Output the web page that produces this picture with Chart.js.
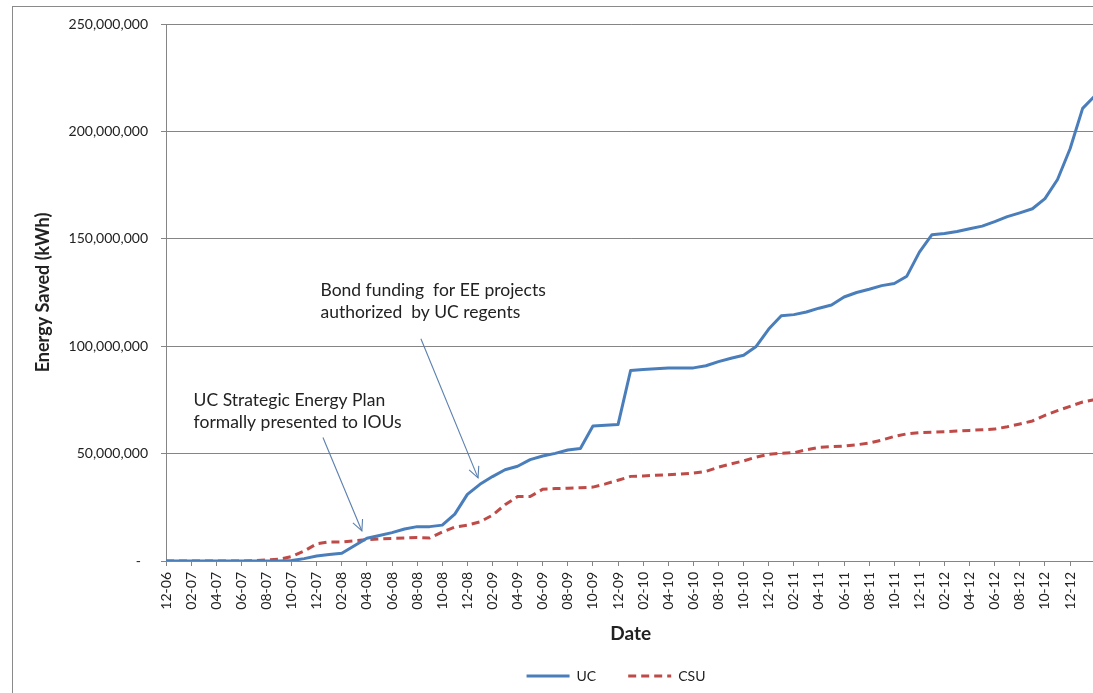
<!DOCTYPE html>
<html><head><meta charset="utf-8">
<script src="https://cdn.jsdelivr.net/npm/chart.js@4.4.0/dist/chart.umd.min.js"></script>
<style>
html,body{margin:0;padding:0;background:#fff;overflow:hidden;width:1093px;height:693px}
#frame{position:absolute;left:12px;top:6px;width:1300px;height:800px;border:1px solid #8a8a8a;box-sizing:border-box}
#wrap{position:absolute;left:0;top:0;width:1118px;height:693px}
</style></head><body>
<div id="frame"></div>
<div id="wrap"><canvas id="c" width="1118" height="693" style="width:1118px;height:693px"></canvas></div>
<script>
// Categories (monthly, MM-YY)
const months = ['12-06',
 '01-07','02-07','03-07','04-07','05-07','06-07','07-07','08-07','09-07','10-07','11-07','12-07',
 '01-08','02-08','03-08','04-08','05-08','06-08','07-08','08-08','09-08','10-08','11-08','12-08',
 '01-09','02-09','03-09','04-09','05-09','06-09','07-09','08-09','09-09','10-09','11-09','12-09',
 '01-10','02-10','03-10','04-10','05-10','06-10','07-10','08-10','09-10','10-10','11-10','12-10',
 '01-11','02-11','03-11','04-11','05-11','06-11','07-11','08-11','09-11','10-11','11-11','12-11',
 '01-12','02-12','03-12','04-12','05-12','06-12','07-12','08-12','09-12','10-12','11-12','12-12',
 '01-13','02-13'];
const lastLabelIndex = 72; // last visible tick label (12-12)

// Energy saved, kWh
const ucValues = [0,
 0,0,0,0,0,0,0,0,0,0.2e6,1.1e6,2.3e6,
 3.0e6,3.6e6,7.1e6,10.6e6,11.9e6,13.2e6,14.9e6,16.0e6,16.0e6,16.7e6,21.8e6,31.0e6,
 35.7e6,39.3e6,42.5e6,44.1e6,47.2e6,48.9e6,50.1e6,51.7e6,52.4e6,62.8e6,63.2e6,63.5e6,
 88.7e6,89.2e6,89.5e6,89.9e6,89.9e6,89.9e6,90.9e6,92.8e6,94.4e6,95.8e6,99.9e6,108.0e6,
 114.2e6,114.7e6,115.9e6,117.7e6,119.2e6,122.9e6,125.0e6,126.5e6,128.2e6,129.2e6,132.6e6,143.8e6,
 151.9e6,152.5e6,153.4e6,154.7e6,155.9e6,158.0e6,160.3e6,162.1e6,164.0e6,168.7e6,177.6e6,191.9e6,
 210.7e6,216.7e6];
const csuValues = [0,
 0,0,0,0,0,0,0.2e6,0.5e6,0.8e6,2.1e6,4.6e6,8.0e6,
 8.9e6,8.9e6,9.4e6,9.9e6,10.3e6,10.5e6,10.7e6,10.9e6,10.7e6,13.5e6,15.8e6,16.7e6,
 18.2e6,21.3e6,26.2e6,30.0e6,30.0e6,33.4e6,33.7e6,33.9e6,34.1e6,34.4e6,35.9e6,37.6e6,
 39.4e6,39.6e6,39.9e6,40.2e6,40.5e6,40.9e6,41.7e6,43.7e6,45.2e6,46.6e6,48.4e6,49.7e6,
 50.2e6,50.4e6,51.8e6,52.9e6,53.2e6,53.5e6,54.1e6,54.9e6,56.3e6,58.0e6,59.2e6,59.8e6,
 60.0e6,60.2e6,60.5e6,60.8e6,61.1e6,61.4e6,62.5e6,63.8e6,65.2e6,67.8e6,70.0e6,72.0e6,
 74.0e6,75.2e6];

// Y axis tick values
const yTicks = [0, 50e6, 100e6, 150e6, 200e6, 250e6];

// Annotations: text anchor, arrow tail and head in (category index, kWh)
const noteTexts = [
  ['UC Strategic Energy Plan', 'formally presented to IOUs'],
  ['Bond funding  for EE projects', 'authorized  by UC regents']
];
const noteAnchors = [[2.2, 74.6e6], [12.3, 126e6]];
const noteTails = [[12.5, 57.5e6], [20.3, 103.5e6]];
const noteHeads = [[15.6, 14.0e6], [24.85, 38.7e6]];

const FONT = 'Lato, "Open Sans", sans-serif';
const GRID = '#858585';
const TEXT = '#222222';

const annotationPlugin = {
  id: 'notes',
  afterDatasetsDraw(chart) {
    const {ctx, scales: {x, y}} = chart;
    ctx.save();
    ctx.font = '17.5px ' + FONT;
    ctx.fillStyle = TEXT;
    ctx.textBaseline = 'middle';
    ctx.textAlign = 'left';
    noteTexts.forEach((lines, i) => {
      const ax = x.getPixelForValue(noteAnchors[i][0]);
      const ay = y.getPixelForValue(noteAnchors[i][1]);
      lines.forEach((t, k) => ctx.fillText(t, ax, ay + k * 22));
      const tx = x.getPixelForValue(noteTails[i][0]), ty = y.getPixelForValue(noteTails[i][1]);
      const hx = x.getPixelForValue(noteHeads[i][0]), hy = y.getPixelForValue(noteHeads[i][1]);
      ctx.strokeStyle = '#5b7fae';
      ctx.lineWidth = 1.1;
      ctx.beginPath(); ctx.moveTo(tx, ty); ctx.lineTo(hx, hy); ctx.stroke();
      const ang = Math.atan2(hy - ty, hx - tx);
      const L = 12, spread = 0.45;
      ctx.beginPath();
      ctx.moveTo(hx - L * Math.cos(ang - spread), hy - L * Math.sin(ang - spread));
      ctx.lineTo(hx, hy);
      ctx.lineTo(hx - L * Math.cos(ang + spread), hy - L * Math.sin(ang + spread));
      ctx.stroke();
    });
    ctx.restore();
  }
};

const legendPlacePlugin = {
  id: 'legendPlace',
  beforeDraw(chart) {
    const lg = chart.legend;
    if (!lg) return;
    const half = (lg.right - lg.left) / 2;
    const C = 616;
    lg.left = C - half;
    lg.right = C + half;
  }
};

new Chart(document.getElementById('c'), {
  type: 'line',
  data: {
    labels: months,
    datasets: [
      {label: 'UC', data: ucValues, borderColor: '#4a7ebb', backgroundColor: '#4a7ebb',
       borderWidth: 3, pointRadius: 0, tension: 0, borderJoinStyle: 'round'},
      {label: 'CSU', data: csuValues, borderColor: '#be4b48', backgroundColor: '#be4b48',
       borderWidth: 3, borderDash: [8, 5], pointRadius: 0, tension: 0}
    ]
  },
  options: {
    responsive: false,
    animation: false,
    devicePixelRatio: 1,
    layout: {padding: {left: 12, top: 24, right: 14, bottom: 0}},
    plugins: {
      tooltip: {enabled: false},
      legend: {
        position: 'bottom',
        maxHeight: 57,
        labels: {
          usePointStyle: true,
          pointStyle: 'line',
          pointStyleWidth: 43,
          padding: 32,
          color: TEXT,
          font: {family: FONT, size: 14},
          generateLabels(chart) {
            const items = Chart.defaults.plugins.legend.labels.generateLabels(chart);
            items.forEach(it => {
              const ds = chart.data.datasets[it.datasetIndex];
              it.lineDash = ds.borderDash || [];
              it.lineWidth = ds.borderWidth;
              it.strokeStyle = ds.borderColor;
              it.pointStyle = 'line';
            });
            return items;
          }
        }
      }
    },
    scales: {
      x: {
        type: 'category',
        afterFit(scale) { scale.height = 76; },
        grid: {
          drawOnChartArea: false, drawTicks: true, tickLength: 5,
          color: (c) => (c.index % 2 === 0 && c.index <= lastLabelIndex) ? GRID : 'rgba(0,0,0,0)'
        },
        border: {display: true, color: GRID, width: 1},
        ticks: {
          autoSkip: false, minRotation: 90, maxRotation: 90, padding: 6,
          color: TEXT, font: {family: FONT, size: 14},
          callback: (v, i) => (i % 2 === 0 && i <= lastLabelIndex) ? months[i] : ''
        },
        title: {display: true, text: 'Date', color: TEXT, padding: 0,
                font: {family: FONT, size: 19, weight: 'bold', lineHeight: 0.32}}
      },
      y: {
        min: 0, max: 250e6,
        afterFit(scale) { scale.width = 154; },
        afterBuildTicks(scale) { scale.ticks = yTicks.map(v => ({value: v})); },
        grid: {color: GRID, lineWidth: 1, tickLength: 5},
        border: {display: true, color: GRID, width: 1},
        ticks: {
          padding: 13, color: TEXT, font: {family: FONT, size: 14},
          callback: (v) => v === 0 ? '-  ' : v.toLocaleString('en-US')
        },
        title: {display: true, text: 'Energy Saved (kWh)', color: TEXT, padding: {top: 20, bottom: 0},
                font: {family: FONT, size: 18, weight: 'bold'}}
      }
    }
  },
  plugins: [annotationPlugin, legendPlacePlugin]
});
</script>
</body></html>
